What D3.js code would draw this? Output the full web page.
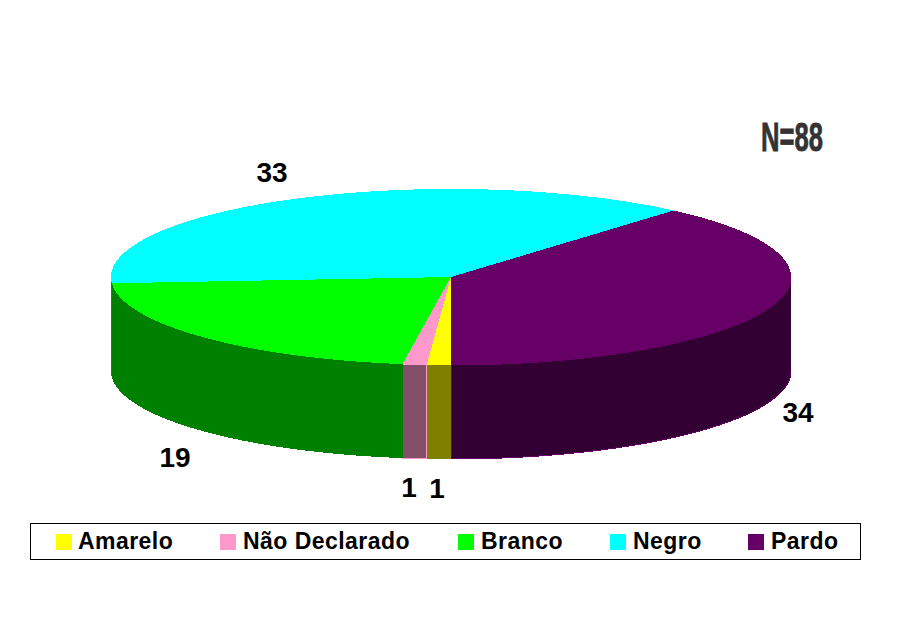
<!DOCTYPE html>
<html><head><meta charset="utf-8">
<script src="https://cdn.jsdelivr.net/npm/d3@7"></script>
<style>html,body{margin:0;padding:0;background:#fff}svg{display:block}text{font-family:"Liberation Sans",Arial,sans-serif;font-weight:bold;fill:#000}</style>
</head><body><div id="c"></div>
<script>
const categories=["Amarelo","Não Declarado","Branco","Negro","Pardo"];
const values=[1,1,19,33,34];
const topColors=["#ffff00","#ff99cc","#00ff00","#00ffff","#660066"];
const wallColors=["#808000","#844f69","#008000","#008080","#330033"];
const wallOutlines=[null,"#ff99cc",null,null,"#660066"];
const note="N=88";

const W=903,H=628;
const svg=d3.select("#c").append("svg").attr("width",W).attr("height",H);
svg.append("rect").attr("width",W).attr("height",H).attr("fill","#fff");

// elliptical projection of the pie: unit sin/cos onto pixels
const px=d3.scaleLinear().domain([-1,1]).range([111,791]);
const py=d3.scaleLinear().domain([-1,1]).range([189,365]);
const depth=94;
const arcs=d3.pie().sort(null).value(d=>d).startAngle(Math.PI).endAngle(3*Math.PI)(values);
const pt=(a,dy=0)=>[px(Math.sin(a)),py(-Math.cos(a))+dy];
const sample=(a0,a1)=>{const n=Math.max(2,Math.ceil((a1-a0)/0.01));return d3.range(n+1).map(i=>a0+(a1-a0)*i/n);};
const line=d3.line();

// side walls: only the part of each slice facing the viewer
const front=[Math.PI/2,3*Math.PI/2];
arcs.forEach(s=>{
  for(const k of [0,2]){
    const a0=Math.max(s.startAngle,front[0]+k*Math.PI),a1=Math.min(s.endAngle,front[1]+k*Math.PI);
    if(a1<=a0)continue;
    const as=sample(a0,a1);
    const ptsTop=as.map(a=>pt(a));
    const ptsBot=as.slice().reverse().map(a=>pt(a,depth));
    const o=wallOutlines[s.index];
    svg.append("path").attr("d",line(ptsTop.concat(ptsBot))+"Z")
      .attr("fill",wallColors[s.index])
      .attr("stroke",o||"none").attr("stroke-width",1)
      .attr("shape-rendering","crispEdges");
  }
});
// top faces
arcs.forEach(s=>{
  const pts=[[px(0),py(0)]].concat(sample(s.startAngle,s.endAngle).map(a=>pt(a)));
  svg.append("path").attr("d",line(pts)+"Z").attr("fill",topColors[s.index]).attr("shape-rendering","crispEdges");
});

// value labels
const labelAt={Amarelo:[437,498],"Não Declarado":[409,497],Branco:[175,467],Negro:[272,182],Pardo:[798,422]};
categories.forEach((c,i)=>{
  svg.append("text").attr("x",labelAt[c][0]).attr("y",labelAt[c][1]).attr("text-anchor","middle")
    .attr("font-size",28).text(values[i]);
});

// note
svg.append("text").attr("transform","translate(761,151) scale(0.64,1)").attr("font-size",40)
  .style("fill","#333").attr("stroke","#333").attr("stroke-width",0.8).text(note);

// legend
svg.append("rect").attr("x",30.5).attr("y",523.5).attr("width",830).attr("height",36)
  .attr("fill","#fff").attr("stroke","#000").attr("stroke-width",1).attr("shape-rendering","crispEdges");
const legendX=[56,220,458,610,748];
categories.forEach((c,i)=>{
  svg.append("rect").attr("x",legendX[i]).attr("y",534).attr("width",16).attr("height",16).attr("fill",topColors[i]);
  svg.append("text").attr("x",legendX[i]+(i?23:22)).attr("y",549).attr("font-size",23).attr("letter-spacing",0.45).text(c);
});
</script></body></html>
